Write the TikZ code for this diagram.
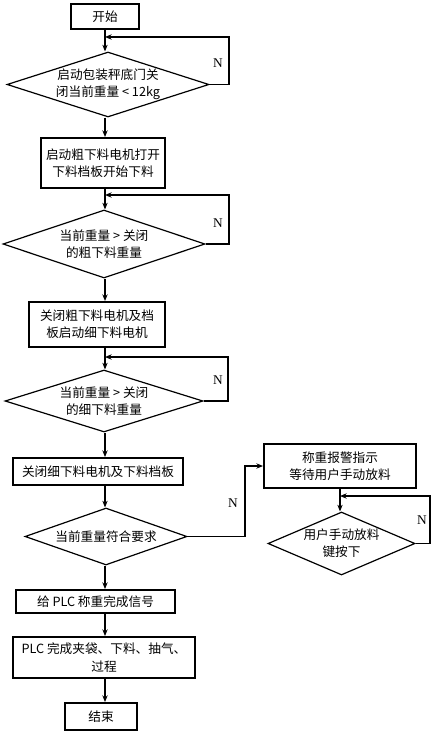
\documentclass[tikz,border=0pt]{standalone}
\usepackage{fontspec}
\setmainfont{Liberation Serif}
\newfontfamily\cjk{Noto Sans CJK SC}
\usetikzlibrary{shapes.geometric,arrows.meta}
\newlength\pxu \setlength\pxu{0.75pt}
\begin{document}
\begin{tikzpicture}[x=0.75pt,y=-0.75pt,
  txt/.style={font=\cjk\fontsize{9.5}{13}\selectfont, align=center},
  box/.style={txt, draw, line width=1.5pt, inner sep=0pt},
  dec/.style={txt, draw, diamond, line width=0.9pt, inner sep=0pt},
  arr/.style={line width=0.8pt, -{Stealth[length=5pt,width=4pt]}},
  lbl/.style={font=\fontsize{10}{12}\selectfont}]
\useasboundingbox (0,0) rectangle (432,731);
\node[box, minimum width=68\pxu, minimum height=25\pxu] (start) at (105,16.5) {开始};
\node[dec, minimum width=202\pxu, minimum height=65\pxu, aspect=3.1] (d1) at (108,84.5) {启动包装秤底门关\\闭当前重量 < 12kg};
\node[box, minimum width=124\pxu, minimum height=50\pxu] (b2) at (103,163) {启动粗下料电机打开\\下料档板开始下料};
\node[dec, minimum width=202\pxu, minimum height=68\pxu, aspect=2.97] (d2) at (104,244) {当前重量 > 关闭\\的粗下料重量};
\node[box, minimum width=136\pxu, minimum height=45\pxu] (b3) at (97,324.5) {关闭粗下料电机及档\\板启动细下料电机};
\node[dec, minimum width=198\pxu, minimum height=62\pxu, aspect=3.19] (d3) at (104,401) {当前重量 > 关闭\\的细下料重量};
\node[box, minimum width=170\pxu, minimum height=27\pxu] (b4) at (98,471.5) {关闭细下料电机及下料档板};
\node[dec, minimum width=162\pxu, minimum height=57\pxu, aspect=2.84] (d4) at (106,536.5) {当前重量符合要求};
\node[box, minimum width=152\pxu, minimum height=44\pxu] (b5) at (340,466) {称重报警指示\\等待用户手动放料};
\node[dec, minimum width=147\pxu, minimum height=63\pxu, aspect=2.33] (d5) at (341.5,543.5) {用户手动放料\\键按下};
\node[box, minimum width=159\pxu, minimum height=23\pxu] (b6) at (95.5,601.5) {给 PLC 称重完成信号};
\node[box, minimum width=182\pxu, minimum height=41\pxu] (b7) at (104,657.5) {PLC 完成夹袋、下料、抽气、\\过程};
\node[box, minimum width=72\pxu, minimum height=27\pxu] (end) at (101,716.5) {结束};
\draw[arr] (start.south) -- (start |- d1.north);
\draw[arr] (start |- d1.south) -- (start |- b2.north);
\draw[arr] (start |- b2.south) -- (start |- d2.north);
\draw[arr] (start |- d2.south) -- (start |- b3.north);
\draw[arr] (start |- b3.south) -- (start |- d3.north);
\draw[arr] (start |- d3.south) -- (start |- b4.north);
\draw[arr] (start |- b4.south) -- (start |- d4.north);
\draw[arr] (start |- d4.south) -- (start |- b6.north);
\draw[arr] (start |- b6.south) -- (start |- b7.north);
\draw[arr] (start |- b7.south) -- (start |- end.north);
\coordinate (r1) at (229,37);
\draw[arr] (d1.east) -| (r1) -- (start |- r1);
\coordinate (r2) at (229,195);
\draw[arr] (d2.east) -| (r2) -- (start |- r2);
\coordinate (r3) at (228,357);
\draw[arr] (d3.east) -| (r3) -- (start |- r3);
\coordinate (r4) at (245,466);
\draw[arr] (d4.east) -| (r4) -- (b5.west);
\draw[arr] (b5.south) -- (b5.south |- d5.north);
\coordinate (r5) at (430,496);
\draw[arr] (d5.east) -| (r5) -- (b5.south |- r5);
\node[lbl] (n1) at (218,63) {N};
\node[lbl] (n2) at (218,223) {N};
\node[lbl] (n3) at (218,380) {N};
\node[lbl] (n4) at (233,503) {N};
\node[lbl] (n5) at (422,520) {N};
\end{tikzpicture}
\end{document}
